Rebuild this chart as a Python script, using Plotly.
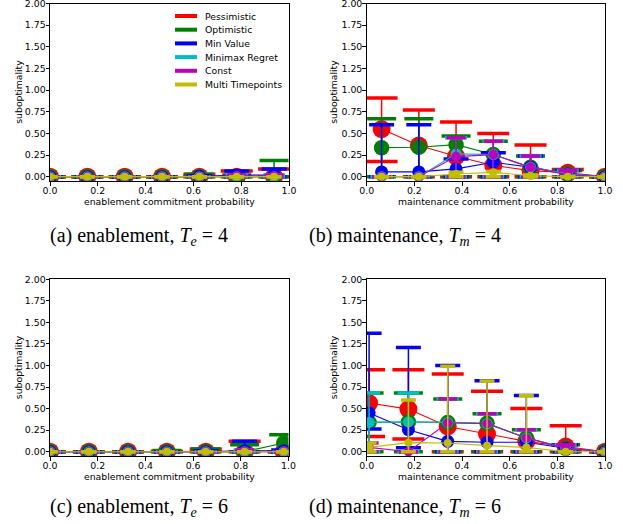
import plotly.graph_objects as go

W, H = 623, 524

SERIES = ["Pessimistic", "Optimistic", "Min Value", "Minimax Regret", "Const", "Multi Timepoints"]
COLORS = ["#FF0000", "#008000", "#0000FF", "#00BFBF", "#BF00BF", "#BFBF00"]
MARKER_SIZES = [18, 15.5, 13, 11, 9.5, 8]
CAP_WIDTHS = [32, 29, 25, 22, 19, 15]

X_TICKS = [0.0, 0.2, 0.4, 0.6, 0.8, 1.0]
X_TICK_LABELS = ["0.0", "0.2", "0.4", "0.6", "0.8", "1.0"]
Y_TICKS = [0.0, 0.25, 0.5, 0.75, 1.0, 1.25, 1.5, 1.75, 2.0]
Y_TICK_LABELS = ["0.00", "0.25", "0.50", "0.75", "1.00", "1.25", "1.50", "1.75", "2.00"]

# ---------------- panel (a): enablement, Te = 4 ----------------
a_x = [0.0, 0.15625, 0.3125, 0.46875, 0.625, 0.78125, 0.9375]
a_mean = {
    "Pessimistic":      [0.0, 0.0, 0.0, 0.0, 0.0, 0.0, 0.0],
    "Optimistic":       [0.0, 0.0, 0.0, 0.0, 0.0, 0.0, 0.0],
    "Min Value":        [0.0, 0.0, 0.0, 0.0, 0.005, 0.02, 0.02],
    "Minimax Regret":   [0.0, 0.0, 0.0, 0.0, 0.0, 0.0, 0.0],
    "Const":            [0.0, 0.0, 0.0, 0.0, 0.0, 0.01, 0.01],
    "Multi Timepoints": [0.0, 0.0, 0.0, 0.0, 0.0, 0.0, 0.0],
}
a_high = {
    "Pessimistic":      [0.0, 0.0, 0.0, 0.0, 0.027, 0.066, 0.09],
    "Optimistic":       [0.0, 0.0, 0.0, 0.0, 0.027, 0.02, 0.186],
    "Min Value":        [0.0, 0.0, 0.0, 0.0, 0.01, 0.066, 0.09],
    "Minimax Regret":   [0.0, 0.0, 0.0, 0.0, 0.0, 0.02, 0.02],
    "Const":            [0.0, 0.0, 0.0, 0.0, 0.0, 0.02, 0.02],
    "Multi Timepoints": [0.0, 0.0, 0.0, 0.0, 0.0, 0.0, 0.0],
}
a_low = {
    "Pessimistic":      [0.0, 0.0, 0.0, 0.0, 0.0, 0.0, 0.0],
    "Optimistic":       [0.0, 0.0, 0.0, 0.0, 0.0, 0.0, 0.0],
    "Min Value":        [0.0, 0.0, 0.0, 0.0, 0.0, 0.0, 0.0],
    "Minimax Regret":   [0.0, 0.0, 0.0, 0.0, 0.0, 0.0, 0.0],
    "Const":            [0.0, 0.0, 0.0, 0.0, 0.0, 0.0, 0.0],
    "Multi Timepoints": [0.0, 0.0, 0.0, 0.0, 0.0, 0.0, 0.0],
}

# ---------------- panel (b): maintenance, Tm = 4 ----------------
b_x = [0.0625, 0.21875, 0.375, 0.53125, 0.6875, 0.84375, 1.0]
b_mean = {
    "Pessimistic":      [0.55, 0.36, 0.235, 0.13, 0.07, 0.045, 0.0],
    "Optimistic":       [0.335, 0.34, 0.37, 0.255, 0.11, 0.03, 0.0],
    "Min Value":        [0.055, 0.055, 0.09, 0.166, 0.11, 0.03, 0.0],
    "Minimax Regret":   [0.0, 0.0, 0.263, 0.255, 0.11, 0.03, 0.0],
    "Const":            [0.0, 0.0, 0.232, 0.255, 0.11, 0.02, 0.0],
    "Multi Timepoints": [0.0, 0.0, 0.03, 0.05, 0.01, 0.0, 0.0],
}
b_high = {
    "Pessimistic":      [0.91, 0.77, 0.63, 0.5, 0.365, 0.083, 0.0],
    "Optimistic":       [0.67, 0.67, 0.47, 0.41, 0.24, 0.07, 0.0],
    "Min Value":        [0.6, 0.6, 0.205, 0.275, 0.24, 0.07, 0.0],
    "Minimax Regret":   [0.0, 0.0, 0.45, 0.41, 0.24, 0.07, 0.0],
    "Const":            [0.0, 0.0, 0.45, 0.41, 0.24, 0.07, 0.0],
    "Multi Timepoints": [0.0, 0.0, 0.05, 0.06, 0.02, 0.0, 0.0],
}
b_low = {
    "Pessimistic":      [0.174, 0.0, 0.0, 0.0, 0.0, 0.0, 0.0],
    "Optimistic":       [0.0, 0.0, 0.0, 0.0, 0.0, 0.0, 0.0],
    "Min Value":        [0.0, 0.0, 0.0, 0.0, 0.0, 0.0, 0.0],
    "Minimax Regret":   [0.0, 0.0, 0.0, 0.0, 0.0, 0.0, 0.0],
    "Const":            [0.0, 0.0, 0.0, 0.0, 0.0, 0.0, 0.0],
    "Multi Timepoints": [0.0, 0.0, 0.0, 0.0, 0.0, 0.0, 0.0],
}

# ---------------- panel (c): enablement, Te = 6 ----------------
c_x = [0.0, 0.163, 0.327, 0.49, 0.653, 0.816, 0.98]
c_mean = {
    "Pessimistic":      [0.0, 0.0, 0.0, 0.0, 0.0, 0.0, 0.0],
    "Optimistic":       [0.0, 0.0, 0.0, 0.0, 0.0, 0.0, 0.1],
    "Min Value":        [0.0, 0.0, 0.0, 0.0, 0.0, 0.01, 0.01],
    "Minimax Regret":   [0.0, 0.0, 0.0, 0.0, 0.0, 0.0, 0.0],
    "Const":            [0.0, 0.0, 0.0, 0.0, 0.0, 0.005, 0.005],
    "Multi Timepoints": [0.0, 0.0, 0.0, 0.0, 0.0, 0.0, 0.0],
}
c_high = {
    "Pessimistic":      [0.0, 0.0, 0.0, 0.005, 0.03, 0.12, 0.0],
    "Optimistic":       [0.0, 0.0, 0.0, 0.015, 0.03, 0.08, 0.197],
    "Min Value":        [0.0, 0.0, 0.0, 0.0, 0.01, 0.12, 0.02],
    "Minimax Regret":   [0.0, 0.0, 0.0, 0.0, 0.0, 0.02, 0.0],
    "Const":            [0.0, 0.0, 0.0, 0.0, 0.0, 0.02, 0.0],
    "Multi Timepoints": [0.0, 0.0, 0.0, 0.0, 0.0, 0.0, 0.0],
}
c_low = {
    "Pessimistic":      [0.0, 0.0, 0.0, 0.0, 0.0, 0.0, 0.0],
    "Optimistic":       [0.0, 0.0, 0.0, 0.0, 0.0, 0.0, 0.0],
    "Min Value":        [0.0, 0.0, 0.0, 0.0, 0.0, 0.0, 0.0],
    "Minimax Regret":   [0.0, 0.0, 0.0, 0.0, 0.0, 0.0, 0.0],
    "Const":            [0.0, 0.0, 0.0, 0.0, 0.0, 0.0, 0.0],
    "Multi Timepoints": [0.0, 0.0, 0.0, 0.0, 0.0, 0.0, 0.0],
}

# ---------------- panel (d): maintenance, Tm = 6 ----------------
d_x = [0.01, 0.175, 0.34, 0.505, 0.67, 0.835, 1.0]
d_mean = {
    "Pessimistic":      [0.564, 0.494, 0.293, 0.205, 0.12, 0.06, 0.0],
    "Optimistic":       [0.34, 0.345, 0.34, 0.33, 0.16, 0.04, 0.0],
    "Min Value":        [0.448, 0.255, 0.12, 0.11, 0.11, 0.04, 0.0],
    "Minimax Regret":   [0.34, 0.345, 0.34, 0.325, 0.16, 0.04, 0.0],
    "Const":            [0.05, 0.0, 0.335, 0.325, 0.16, 0.04, 0.0],
    "Multi Timepoints": [0.05, 0.105, 0.1, 0.07, 0.05, 0.0, 0.0],
}
d_high = {
    "Pessimistic":      [0.95, 0.95, 0.9, 0.7, 0.5, 0.3, 0.0],
    "Optimistic":       [0.68, 0.68, 0.61, 0.44, 0.255, 0.08, 0.0],
    "Min Value":        [1.375, 1.21, 1.0, 0.823, 0.653, 0.08, 0.0],
    "Minimax Regret":   [0.68, 0.68, 0.61, 0.44, 0.255, 0.08, 0.0],
    "Const":            [0.1, 0.0, 0.61, 0.44, 0.255, 0.08, 0.0],
    "Multi Timepoints": [0.1, 0.6, 0.99, 0.82, 0.65, 0.0, 0.0],
}
d_low = {
    "Pessimistic":      [0.175, 0.147, 0.0, 0.0, 0.0, 0.0, 0.0],
    "Optimistic":       [0.0, 0.0, 0.0, 0.0, 0.0, 0.0, 0.0],
    "Min Value":        [0.263, 0.046, 0.0, 0.0, 0.0, 0.0, 0.0],
    "Minimax Regret":   [0.0, 0.0, 0.0, 0.0, 0.0, 0.0, 0.0],
    "Const":            [0.0, 0.0, 0.0, 0.0, 0.0, 0.0, 0.0],
    "Multi Timepoints": [0.0, 0.0, 0.0, 0.0, 0.0, 0.0, 0.0],
}

X_TITLES = ["enablement commitment probability", "maintenance commitment probability",
            "enablement commitment probability", "maintenance commitment probability"]
CAPTIONS = ["(a) enablement, <i>T<sub>e</sub></i> = 4",
            "(b) maintenance, <i>T<sub>m</sub></i> = 4",
            "(c) enablement, <i>T<sub>e</sub></i> = 6",
            "(d) maintenance, <i>T<sub>m</sub></i> = 6"]

PANELS = [(a_x, a_mean, a_high, a_low),
          (b_x, b_mean, b_high, b_low),
          (c_x, c_mean, c_high, c_low),
          (d_x, d_mean, d_high, d_low)]

# plot areas in pixels: (left, right, top, bottom)
BOXES = [(50, 289, 3.5, 181), (366.7, 605, 3.5, 181),
         (50, 288.5, 279.3, 456), (366.7, 605, 279.3, 456)]

FONT = "DejaVu Sans"
TICK_FONT = 9.4

fig = go.Figure()

for p, (xs, mean, high, low) in enumerate(PANELS):
    xa = "x" if p == 0 else f"x{p+1}"
    ya = "y" if p == 0 else f"y{p+1}"
    for s, name in enumerate(SERIES):
        m = mean[name]
        hi = high[name]
        lo = low[name]
        col = COLORS[s]
        fig.add_trace(go.Scatter(
            x=xs, y=m, mode="lines+markers", xaxis=xa, yaxis=ya,
            line=dict(color=col, width=1.1),
            marker=dict(color=col, size=MARKER_SIZES[s], line=dict(width=0)),
            error_y=dict(type="data", symmetric=False,
                         array=[h - v for h, v in zip(hi, m)],
                         arrayminus=[v - l for v, l in zip(m, lo)],
                         color=col, thickness=1.5, width=0),
            showlegend=False, hoverinfo="skip"))
        # plotly's line-ew symbol is 1.4 * size wide
        fig.add_trace(go.Scatter(
            x=list(xs) + list(xs), y=list(hi) + list(lo), mode="markers",
            xaxis=xa, yaxis=ya,
            marker=dict(symbol="line-ew", size=CAP_WIDTHS[s] / 1.4,
                        line=dict(color=col, width=3.5)),
            showlegend=False, hoverinfo="skip"))

layout = dict(
    template="none",
    width=W, height=H, margin=dict(l=0, r=0, t=0, b=0, autoexpand=False),
    paper_bgcolor="white", plot_bgcolor="white",
    font=dict(family=FONT, size=TICK_FONT, color="black"),
    showlegend=False,
)

annotations = []
shapes = []
for p, (l, r, t, b) in enumerate(BOXES):
    xk = "xaxis" if p == 0 else f"xaxis{p+1}"
    yk = "yaxis" if p == 0 else f"yaxis{p+1}"
    ya = "y" if p == 0 else f"y{p+1}"
    xa = "x" if p == 0 else f"x{p+1}"
    layout[xk] = dict(
        domain=[l / W, r / W], anchor=ya, range=[0, 1.0], automargin=False,
        tickmode="array", tickvals=X_TICKS, ticktext=X_TICK_LABELS,
        ticks="outside", ticklen=3.5, tickwidth=1, tickcolor="black",
        ticklabeloverflow="allow", ticklabelstandoff=-3,
        showline=True, linecolor="black", linewidth=1, mirror=True,
        showgrid=False, zeroline=False,
        tickfont=dict(family=FONT, size=TICK_FONT, color="black"))
    layout[yk] = dict(
        domain=[1 - b / H, 1 - t / H], anchor=xa, range=[-0.05, 2.0], automargin=False,
        tickmode="array", tickvals=Y_TICKS, ticktext=Y_TICK_LABELS,
        ticks="outside", ticklen=3.5, tickwidth=1, tickcolor="black",
        ticklabeloverflow="allow", ticklabelstandoff=-2,
        showline=True, linecolor="black", linewidth=1, mirror=True,
        showgrid=False, zeroline=False,
        tickfont=dict(family=FONT, size=TICK_FONT, color="black"))
    # axis titles
    annotations.append(dict(
        text=X_TITLES[p], xref="paper", yref="paper",
        x=(l + r) / 2 / W, y=1 - (b + 20.5) / H,
        xanchor="center", yanchor="middle", showarrow=False,
        font=dict(family=FONT, size=9.3, color="black")))
    ylx = 18.5 if p in (0, 2) else 333.5
    annotations.append(dict(
        text="suboptimality", xref="paper", yref="paper",
        x=ylx / W, y=1 - (t + b) / 2 / H, textangle=-90,
        xanchor="center", yanchor="middle", showarrow=False,
        font=dict(family=FONT, size=9.3, color="black")))

# captions
CAP_POS = [(139, 236), (405, 236), (139, 507), (405, 507)]
for p, (cx, cy) in enumerate(CAP_POS):
    annotations.append(dict(
        text=CAPTIONS[p], xref="paper", yref="paper",
        x=cx / W, y=1 - cy / H, xanchor="center", yanchor="middle",
        showarrow=False,
        font=dict(family="Liberation Serif", size=20, color="black")))

# legend (panel a, upper right)
LEG_Y = [16, 29.7, 43.4, 57.1, 70.8, 84.5]
for s, name in enumerate(SERIES):
    yy = 1 - LEG_Y[s] / H
    shapes.append(dict(type="line", xref="paper", yref="paper",
                       x0=175 / W, x1=197 / W, y0=yy, y1=yy,
                       line=dict(color=COLORS[s], width=4)))
    annotations.append(dict(
        text=name, xref="paper", yref="paper", x=203 / W, y=yy,
        xanchor="left", yanchor="middle", showarrow=False,
        font=dict(family=FONT, size=9.3, color="black")))

layout["annotations"] = annotations
layout["shapes"] = shapes
fig.update_layout(**layout)
fig.write_html("out.html",
               config={"displayModeBar": False, "staticPlot": True},
               post_script="document.body.style.margin='0';document.body.style.overflow='hidden';")
